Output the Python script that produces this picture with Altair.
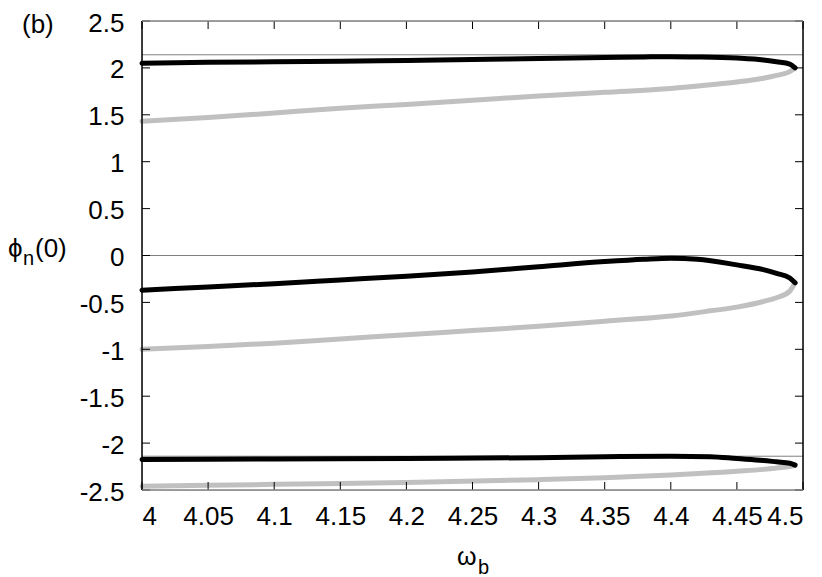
import altair as alt
import pandas as pd

# ---- data ----
top_black_x = [4.0, 4.05, 4.1, 4.15, 4.2, 4.25, 4.3, 4.35, 4.38, 4.4, 4.42, 4.45, 4.47, 4.48, 4.49, 4.494]
top_black_y = [2.05, 2.06, 2.065, 2.07, 2.08, 2.09, 2.10, 2.11, 2.117, 2.12, 2.117, 2.105, 2.085, 2.065, 2.04, 2.0]
top_gray_x = [4.0, 4.05, 4.1, 4.15, 4.2, 4.25, 4.3, 4.35, 4.4, 4.43, 4.45, 4.47, 4.48, 4.49, 4.494]
top_gray_y = [1.43, 1.47, 1.52, 1.57, 1.61, 1.655, 1.70, 1.74, 1.78, 1.82, 1.85, 1.89, 1.92, 1.96, 2.0]

mid_black_x = [4.0, 4.05, 4.1, 4.15, 4.2, 4.25, 4.3, 4.35, 4.38, 4.4, 4.42, 4.45, 4.47, 4.48, 4.49, 4.494]
mid_black_y = [-0.37, -0.335, -0.30, -0.26, -0.22, -0.175, -0.12, -0.065, -0.04, -0.03, -0.04, -0.10, -0.15, -0.19, -0.24, -0.29]
mid_gray_x = [4.0, 4.05, 4.1, 4.15, 4.2, 4.25, 4.3, 4.35, 4.4, 4.43, 4.45, 4.47, 4.48, 4.49, 4.494]
mid_gray_y = [-1.0, -0.97, -0.935, -0.89, -0.845, -0.80, -0.755, -0.70, -0.645, -0.59, -0.55, -0.49, -0.45, -0.38, -0.29]

bot_black_x = [4.0, 4.1, 4.2, 4.3, 4.35, 4.4, 4.43, 4.45, 4.47, 4.48, 4.49, 4.494]
bot_black_y = [-2.175, -2.17, -2.165, -2.155, -2.145, -2.14, -2.145, -2.165, -2.185, -2.20, -2.215, -2.235]
bot_gray_x = [4.0, 4.1, 4.2, 4.3, 4.35, 4.4, 4.45, 4.47, 4.48, 4.49, 4.494]
bot_gray_y = [-2.46, -2.44, -2.42, -2.39, -2.37, -2.34, -2.30, -2.28, -2.265, -2.25, -2.235]

hlines = [2.14, 0.0, -2.14]
x_ticks = [4.0, 4.05, 4.1, 4.15, 4.2, 4.25, 4.3, 4.35, 4.4, 4.45, 4.5]
y_ticks = [-2.5, -2.0, -1.5, -1.0, -0.5, 0.0, 0.5, 1.0, 1.5, 2.0, 2.5]

# ---- tables ----
rows = []
for name, kind, xs, ys in [
    ("top_b", "upper", top_black_x, top_black_y),
    ("top_g", "lower", top_gray_x, top_gray_y),
    ("mid_b", "upper", mid_black_x, mid_black_y),
    ("mid_g", "lower", mid_gray_x, mid_gray_y),
    ("bot_b", "upper", bot_black_x, bot_black_y),
    ("bot_g", "lower", bot_gray_x, bot_gray_y),
]:
    for i, (a, b) in enumerate(zip(xs, ys)):
        rows.append({"x": a, "y": b, "branch": name, "kind": kind, "i": i})
curves = pd.DataFrame(rows)

W, H = 661, 469
PAD_T, PAD_L = 13, 134
PAD_B = 569 - PAD_T - H
FONT = "Liberation Sans"
FS = 26

xscale = alt.Scale(domain=[4.0, 4.5], nice=False, zero=False)
yscale = alt.Scale(domain=[-2.5, 2.5], nice=False, zero=False)

base_axis = dict(domain=False, ticks=False, grid=False, title=None,
                 labelFont=FONT, labelFontSize=FS, labelColor="black",
                 labelOverlap=False, labelExpr="datum.value + ''")

hl = alt.Chart(pd.DataFrame({"h": hlines})).mark_rule(color="#808080", strokeWidth=1).encode(
    y=alt.Y("h:Q", scale=yscale,
            axis=alt.Axis(values=y_ticks, labelPadding=18, labelOffset=2, **base_axis)),
    x=alt.value(0), x2=alt.value(W),
)

def curve_layer(kind, color):
    return alt.Chart(curves[curves.kind == kind]).mark_line(
        color=color, strokeWidth=5, strokeCap="round", strokeJoin="round",
        interpolate="monotone",
    ).encode(
        x=alt.X("x:Q", scale=xscale,
                axis=alt.Axis(values=x_ticks, labelPadding=13, **base_axis)),
        y=alt.Y("y:Q", scale=yscale),
        detail="branch:N",
        order="i:Q",
    )

black = curve_layer("upper", "#000000")
gray = curve_layer("lower", "#c0c0c0")

yt = pd.DataFrame({"v": y_ticks})
xt = pd.DataFrame({"v": x_ticks})
tick_l = alt.Chart(yt).mark_rule(color="black").encode(y=alt.Y("v:Q", scale=yscale), x=alt.value(0), x2=alt.value(8))
tick_r = alt.Chart(yt).mark_rule(color="black").encode(y=alt.Y("v:Q", scale=yscale), x=alt.value(W - 8), x2=alt.value(W))
tick_b = alt.Chart(xt).mark_rule(color="black").encode(x=alt.X("v:Q", scale=xscale), y=alt.value(H - 8), y2=alt.value(H))
tick_t = alt.Chart(xt).mark_rule(color="black").encode(x=alt.X("v:Q", scale=xscale), y=alt.value(0), y2=alt.value(8))

one = pd.DataFrame({"a": [0]})
b_left = alt.Chart(one).mark_rule(color="black", strokeWidth=1.5).encode(x=alt.value(0), y=alt.value(0), y2=alt.value(H))
b_right = alt.Chart(one).mark_rule(color="black", strokeWidth=1.5).encode(x=alt.value(W), y=alt.value(0), y2=alt.value(H))
b_top = alt.Chart(one).mark_rule(color="#808080", strokeWidth=1.5).encode(y=alt.value(0), x=alt.value(0), x2=alt.value(W))
b_bot = alt.Chart(one).mark_rule(color="#808080", strokeWidth=1.5).encode(y=alt.value(H), x=alt.value(0), x2=alt.value(W))

def txt(s, x, y, size=FS):
    return alt.Chart(one).mark_text(align="left", baseline="alphabetic", font=FONT,
                                    fontSize=size, color="black").encode(
        x=alt.value(x), y=alt.value(y), text=alt.value(s))

labels = [
    txt("(b)", -120, 12),
    txt("ϕ", -134, 236),
    txt("n", -119, 244, 20),
    txt("(0)", -107, 236),
    txt("ω", 315, 544, 25),
    txt("b", 336, 553, 20),
]

chart = alt.layer(
    hl, gray, black, tick_l, tick_r, tick_b, tick_t,
    b_left, b_right, b_top, b_bot, *labels
).properties(
    width=W, height=H,
    autosize=alt.AutoSizeParams(type="none"),
    padding={"left": PAD_L, "top": PAD_T, "right": 11, "bottom": PAD_B},
).configure_view(stroke=None).configure(background="white")

chart.save("out.html", embed_options={"renderer": "svg", "actions": False})
